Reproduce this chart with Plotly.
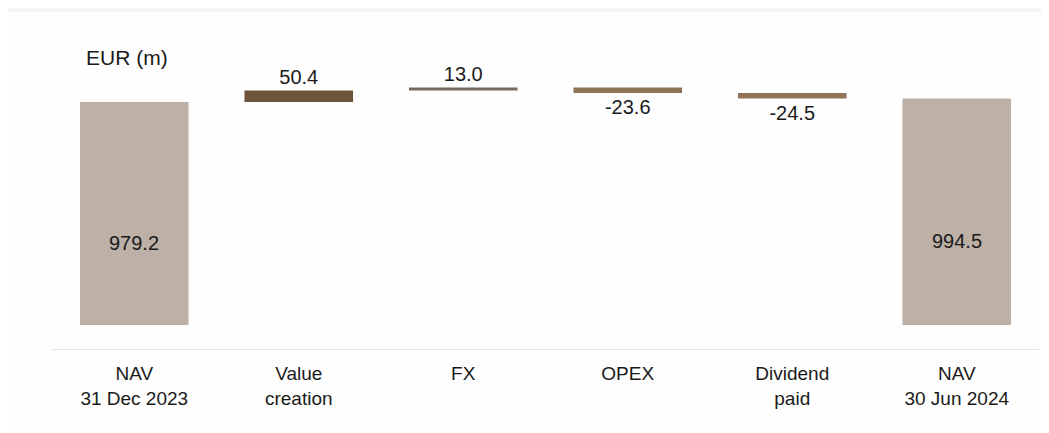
import plotly.graph_objects as go

categories = ["NAV<br>31 Dec 2023", "Value<br>creation", "FX", "OPEX", "Dividend<br>paid", "NAV<br>30 Jun 2024"]
values = [979.2, 50.4, 13.0, -23.6, -24.5, 994.5]
measures = ["total", "relative", "relative", "relative", "relative", "total"]
labels = ["979.2", "50.4", "13.0", "-23.6", "-24.5", "994.5"]
colors = ["#bcb0a7", "#6b553a", "#786a5c", "#8c7358", "#917558", "#bcb0a7"]

FONT = "Liberation Sans, Arial, sans-serif"

# compute bases from measures
bases = []
running = 0.0
for v, m in zip(values, measures):
    if m == "total":
        bases.append(0.0)
        running = v
    else:
        bases.append(running)
        running += v

bar_text = ["" if m == "total" else t for m, t in zip(measures, labels)]

fig = go.Figure()
fig.add_trace(go.Bar(
    x=categories, y=values, base=bases,
    marker=dict(color=colors, line=dict(width=0)),
    width=0.66,
    text=bar_text, textposition="outside",
    textfont=dict(family=FONT, size=20, color="#1a1a1a"),
    cliponaxis=False,
    hoverinfo="skip",
))

annotations = [dict(text="EUR (m)", xref="paper", yref="paper", x=(84 - 52) / 987, y=(349 - 58) / 309,
                    xanchor="left", yanchor="middle", showarrow=False,
                    font=dict(family=FONT, size=21, color="#1a1a1a"))]
for c, v, m, t in zip(categories, values, measures, labels):
    if m == "total":
        annotations.append(dict(text=t, x=c, y=v * 0.37, xref="x", yref="y", showarrow=False,
                                xanchor="center", yanchor="middle",
                                font=dict(family=FONT, size=20, color="#1a1a1a")))

# page offset (default body margin of 8px)
fig.update_layout(
    width=1041, height=425,
    margin=dict(l=44, r=10, t=32, b=84),
    paper_bgcolor="#fefefe", plot_bgcolor="#fefefe",
    showlegend=False,
    font=dict(family=FONT, size=19, color="#1a1a1a"),
    xaxis=dict(showline=True, linecolor="#e3e3e3", linewidth=1, showgrid=False,
               ticks="", tickfont=dict(family=FONT, size=19, color="#1a1a1a"), ticklabelstandoff=7,
               range=[-0.5, 5.5], fixedrange=True),
    yaxis=dict(visible=False, range=[-105.4, 1251.6], showgrid=False, zeroline=False, fixedrange=True),
    annotations=annotations,
    shapes=[
        dict(type="rect", xref="paper", yref="paper", x0=-0.06, x1=1.02,
             y0=(349 - 0) / 309 + 0.2, y1=(349 - 12) / 309, fillcolor="#f5f5f5", line=dict(width=0), layer="below"),
    ],
)

fig.write_html("out.html")
